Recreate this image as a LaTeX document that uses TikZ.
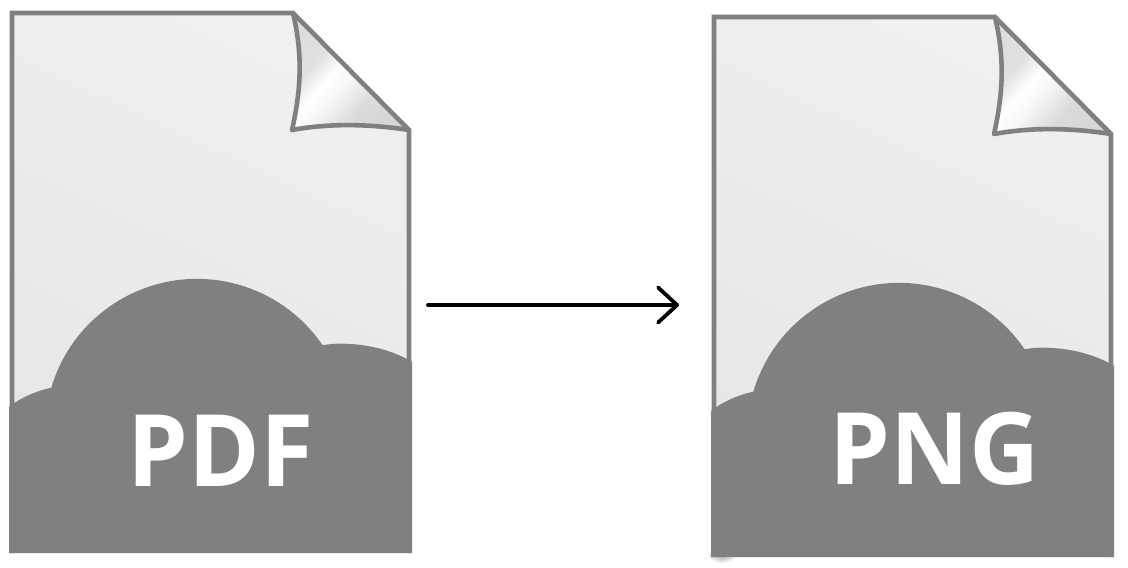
\documentclass[tikz,border=0pt]{standalone}
\usepackage{fontspec}
\setmainfont{Open Sans}
\usetikzlibrary{arrows.meta}
\definecolor{ink}{RGB}{0,0,0}
\definecolor{edge}{RGB}{128,128,128}
\definecolor{pagelight}{RGB}{240,240,240}
\definecolor{pagedark}{RGB}{230,230,230}
\pgfdeclarehorizontalshading{foldshade}{100bp}{
  color(0bp)=(white!84!black); color(36bp)=(white!88!black);
  color(45bp)=(white); color(52bp)=(white!97!black);
  color(64bp)=(white!86!black); color(100bp)=(white!80!black)}
\tikzset{
  doclabel/.style={font=\fontsize{100}{100}\selectfont\bfseries, text=white, inner sep=0pt, xscale=.97, transform shape},
  docline/.style={edge, line width=4.6pt, line join=miter}
}
\begin{document}
\begin{tikzpicture}[x=1pt, y=-1pt]
\useasboundingbox (0,0) rectangle (1128,568);
% shadow under the second page
\shade[inner color=edge!80, outer color=white] (722,554) ellipse [x radius=15, y radius=9];
% the two pages
\foreach \dx/\dy in {0/0,702/4} {
\begin{scope}[shift={(\dx,\dy)}]
  \shade[top color=pagelight, bottom color=pagedark, shading angle=-25]
    (12,13) -- (293,13) -- (409,130) -- (409,553) -- (12,553) -- cycle;
  % fold
  \shade[shading=foldshade, shading angle=-42]
    (293,13) .. controls (303,55) and (301,90) .. (292,130)
    .. controls (330,123) and (370,124) .. (409,130) -- cycle;
  \draw[docline] (12,553) -- (12,13) -- (293,13) -- (409,130) -- (409,553);
  \draw[docline, line join=round] (293,13) .. controls (303,55) and (301,90) .. (292,130)
    .. controls (330,123) and (370,124) .. (409,130);
  % cloud
  \fill[edge] (9,407) .. controls (20,398) and (36,391) .. (51.3,387.7)
    arc[start angle=196.5, end angle=325.7, radius=152]
    .. controls (345,341) and (385,345) .. (412,362)
    -- (412,553) -- (9,553) -- cycle;
\end{scope}
}
% labels
\node[doclabel] (pdflabel) at (220.5,450.5) {PDF};
\node[doclabel] (pnglabel) at (934.5,448.5) {PNG};
% arrow
\coordinate (arrowstart) at (428,305);
\coordinate (arrowend) at (679,305);
\draw[ink, line width=3.8pt, line cap=round, -{Straight Barb[length=19pt, width=35pt, line cap=round, line join=round]}] (arrowstart) -- (arrowend);
\end{tikzpicture}
\end{document}
